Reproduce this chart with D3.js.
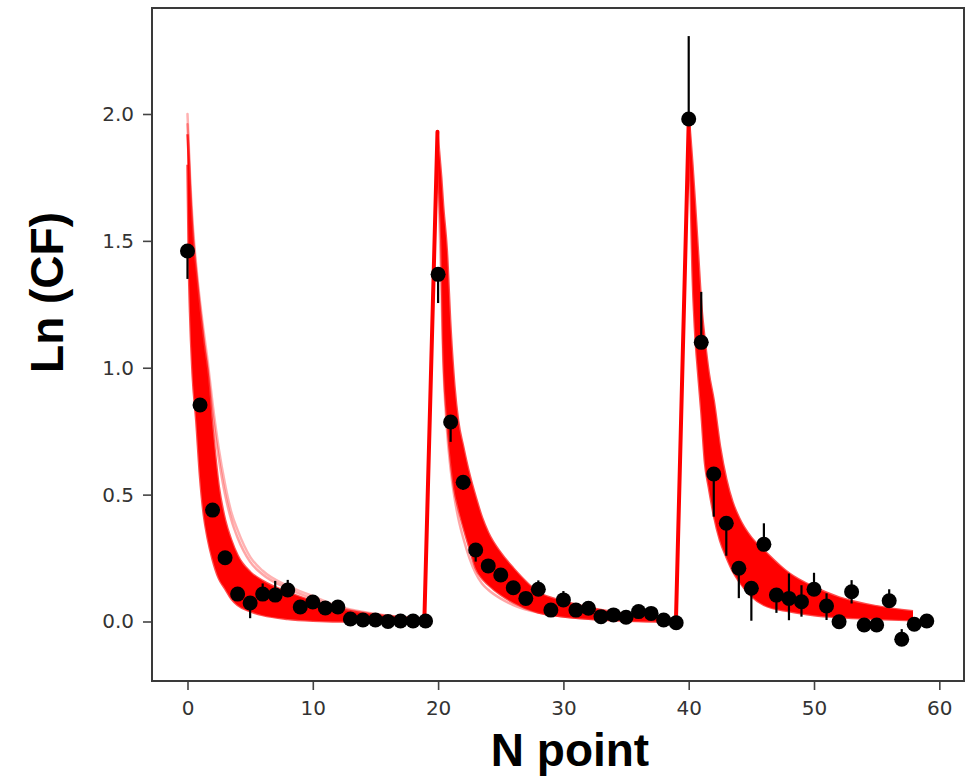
<!DOCTYPE html>
<html><head><meta charset="utf-8">
<script src="https://cdn.jsdelivr.net/npm/d3@7"></script>
<style>body{margin:0;background:#fff;} svg{display:block;}</style>
</head><body><svg id="chart" width="971" height="776"></svg>
<script>
// ---------- data ----------
const nPoint = [0,1,2,3,4,5,6,7,8,9,10,11,12,13,14,15,16,17,18,19,
  20,21,22,23,24,25,26,27,28,29,30,31,32,33,34,35,36,37,38,39,
  40,41,42,43,44,45,46,47,48,49,50,51,52,53,54,55,56,57,58,59];
const lnCF = [1.46,0.853,0.439,0.251,0.108,0.073,0.108,0.104,0.124,0.057,0.077,0.053,0.057,0.010,0.006,0.006,0.000,0.002,0.002,0.002,
  1.368,0.786,0.549,0.282,0.219,0.183,0.133,0.091,0.127,0.045,0.085,0.045,0.052,0.019,0.026,0.017,0.039,0.032,0.006,-0.005,
  1.980,1.100,0.581,0.387,0.210,0.131,0.304,0.104,0.091,0.078,0.127,0.061,-0.001,0.117,-0.014,-0.014,0.082,-0.070,-0.011,0.002];
const errLow = [0.11,0.02,0.02,0.02,0.02,0.06,0.02,0.02,0.02,0.02,0.02,0.02,0.02,0.02,0.02,0.02,0.02,0.02,0.02,0.02,
  0.113,0.078,0.03,0.046,0.02,0.02,0.02,0.02,0.02,0.02,0.02,0.02,0.02,0.02,0.02,0.02,0.02,0.02,0.02,0.02,
  0.02,0.02,0.168,0.128,0.118,0.128,0.02,0.070,0.086,0.059,0.02,0.055,0.02,0.046,0.02,0.02,0.02,0.02,0.02,0.02];
const errHigh = [0.02,0.02,0.02,0.02,0.02,0.025,0.042,0.056,0.04,0.02,0.02,0.02,0.02,0.02,0.02,0.02,0.02,0.02,0.02,0.02,
  0.02,0.02,0.02,0.02,0.02,0.02,0.02,0.02,0.035,0.02,0.035,0.02,0.02,0.02,0.02,0.02,0.02,0.02,0.02,0.02,
  0.327,0.199,0.02,0.02,0.02,0.02,0.083,0.02,0.098,0.065,0.065,0.05,0.02,0.046,0.02,0.02,0.045,0.04,0.02,0.02];

// model ensemble band (upper / lower envelope) for each decay
const band1N    = [0,0.1,0.2,0.4,0.7,1.0,1.3,1.6,2.0,2.5,3.0,3.5,4.0,5.0,6.0,8.0,10,12,15,18.9];
const band1High = [1.92,1.82,1.70,1.52,1.36,1.215,1.09,0.98,0.76,0.53,0.40,0.32,0.26,0.195,0.16,0.115,0.08,0.05,0.025,0.01];
const band1Low  = [1.80,1.42,1.22,0.98,0.79,0.57,0.42,0.33,0.245,0.17,0.13,0.09,0.065,0.04,0.025,0.01,0.003,0.0,0.0,0.0];
const faint1a   = [2.00,1.88,1.76,1.58,1.40,1.26,1.14,1.03,0.86,0.68,0.54,0.43,0.36,0.255,0.20,0.14,0.10,0.06,0.03,0.012];
const faint1b   = [1.96,1.85,1.73,1.55,1.38,1.24,1.11,1.00,0.82,0.64,0.50,0.40,0.33,0.235,0.185,0.13,0.09,0.055,0.028,0.012];

const band2N    = [19.95,20.1,20.25,20.4,20.7,21.0,21.3,21.6,22.0,22.5,23.0,23.5,24.0,25.0,26.0,28.0,30.0,33.0,36.0,38.95];
const band2High = [1.93,1.84,1.75,1.64,1.46,1.15,0.93,0.79,0.69,0.58,0.49,0.41,0.35,0.27,0.21,0.115,0.08,0.045,0.022,0.01];
const band2Low  = [1.86,1.68,1.50,1.10,0.81,0.64,0.52,0.45,0.375,0.29,0.21,0.17,0.145,0.105,0.075,0.035,0.02,0.008,0.002,0.0];
const faint2    = [1.82,1.60,1.35,1.05,0.76,0.60,0.49,0.41,0.33,0.25,0.19,0.15,0.125,0.09,0.065,0.035,0.02,0.008,0.002,0.0];

const band3N    = [40.0,40.15,40.3,40.5,40.75,41.0,41.3,41.6,42.0,42.5,43.0,43.5,44.0,45.0,46.0,48.0,50.0,52.0,55.0,57.9];
const band3High = [1.99,1.90,1.80,1.65,1.45,1.25,1.10,0.98,0.87,0.69,0.56,0.47,0.41,0.33,0.28,0.19,0.135,0.095,0.06,0.04];
const band3Low  = [1.93,1.70,1.38,1.15,0.98,0.83,0.623,0.53,0.42,0.32,0.255,0.20,0.16,0.10,0.065,0.04,0.025,0.017,0.01,0.005];

// steep rises of the model between pulses
const rise2N = [18.9, 19.95], rise2V = [0.0, 1.93];
const rise3N = [38.98, 40.0], rise3V = [0.0, 1.97];

const xTicks = [0,10,20,30,40,50,60];
const yTicks = [0.0,0.5,1.0,1.5,2.0];
const xTitle = "N point", yTitle = "Ln (CF)";

// ---------- chart ----------
const L = 152, R = 964, T = 8, B = 681;
const svg = d3.select("#chart");
const x = d3.scaleLinear().domain([-2.833, 61.97]).range([L, R]);
const y = d3.scaleLinear().domain([-0.2345, 2.4177]).range([B, T]);

svg.append("defs").append("clipPath").attr("id","clip")
  .append("rect").attr("x",L).attr("y",T).attr("width",R-L).attr("height",B-T);
const plot = svg.append("g").attr("clip-path","url(#clip)");

const RED = "#ff0000";
function drawBand(ns, hi, lo){
  const rows = ns.map((n,i)=>({n, hi:hi[i], lo:lo[i]}));
  plot.append("path").datum(rows)
    .attr("d", d3.area().x(d=>x(d.n)).y0(d=>y(d.lo)).y1(d=>y(d.hi)).curve(d3.curveMonotoneX))
    .attr("fill", RED);
  [hi, lo].forEach(arr=>{
    plot.append("path").datum(ns.map((n,i)=>({n, v:arr[i]})))
      .attr("d", d3.line().x(d=>x(d.n)).y(d=>y(d.v)).curve(d3.curveMonotoneX))
      .attr("fill","none").attr("stroke",RED).attr("stroke-width",2.5).attr("stroke-opacity",0.7);
  });
}
function drawLine(ns, vs, w, op, curve){
  plot.append("path").datum(ns.map((n,i)=>({n, v:vs[i]})))
    .attr("d", d3.line().x(d=>x(d.n)).y(d=>y(d.v)).curve(curve||d3.curveMonotoneX))
    .attr("fill","none").attr("stroke",RED).attr("stroke-width",w).attr("stroke-opacity",op)
    .attr("stroke-linejoin","round").attr("stroke-linecap","round");
}
drawLine(band1N, faint1a, 2.5, 0.3);
drawLine(band1N, faint1b, 2.5, 0.35);
drawLine(band2N, faint2, 2.5, 0.35);
drawBand(band1N, band1High, band1Low);
drawBand(band2N, band2High, band2Low);
drawBand(band3N, band3High, band3Low);
drawLine(rise2N, rise2V, 4, 1, d3.curveLinear);
drawLine(rise3N, rise3V, 4, 1, d3.curveLinear);

// error bars + markers
const pts = nPoint.map((n,i)=>({n, v:lnCF[i], lo:errLow[i], hi:errHigh[i]}));
plot.append("g").selectAll("line").data(pts).join("line")
  .attr("x1",d=>x(d.n)).attr("x2",d=>x(d.n))
  .attr("y1",d=>y(d.v-d.lo)).attr("y2",d=>y(d.v+d.hi))
  .attr("stroke","#000").attr("stroke-width",2.2);
plot.append("g").selectAll("circle").data(pts).join("circle")
  .attr("cx",d=>x(d.n)).attr("cy",d=>y(d.v)).attr("r",7.5).attr("fill","#000");

// axes
const gx = svg.append("g").attr("transform",`translate(0,${B})`)
  .call(d3.axisBottom(x).tickValues(xTicks).tickFormat(d3.format("d")).tickSize(9).tickPadding(11));
const gy = svg.append("g").attr("transform",`translate(${L},0)`)
  .call(d3.axisLeft(y).tickValues(yTicks).tickFormat(d3.format(".1f")).tickSize(9).tickPadding(9));
[gx, gy].forEach(g=>{
  g.select(".domain").remove();
  g.selectAll(".tick line").attr("stroke","#444").attr("stroke-width",1.6);
  g.selectAll(".tick text").attr("fill","#333").style("font-family","'DejaVu Sans', sans-serif").style("font-size","20px");
});
svg.append("rect").attr("x",L).attr("y",T).attr("width",R-L).attr("height",B-T)
  .attr("fill","none").attr("stroke","#3a3a3a").attr("stroke-width",2);

svg.append("text").attr("x",570).attr("y",766).attr("text-anchor","middle")
  .style("font-family","'Liberation Sans', Arial, sans-serif").style("font-weight","bold").style("font-size","46px")
  .attr("fill","#000").text(xTitle);
svg.append("text").attr("transform","translate(63,292.5) rotate(-90)").attr("text-anchor","middle")
  .style("font-family","'Liberation Sans', Arial, sans-serif").style("font-weight","bold").style("font-size","46px")
  .attr("fill","#000").text(yTitle);
</script></body></html>
